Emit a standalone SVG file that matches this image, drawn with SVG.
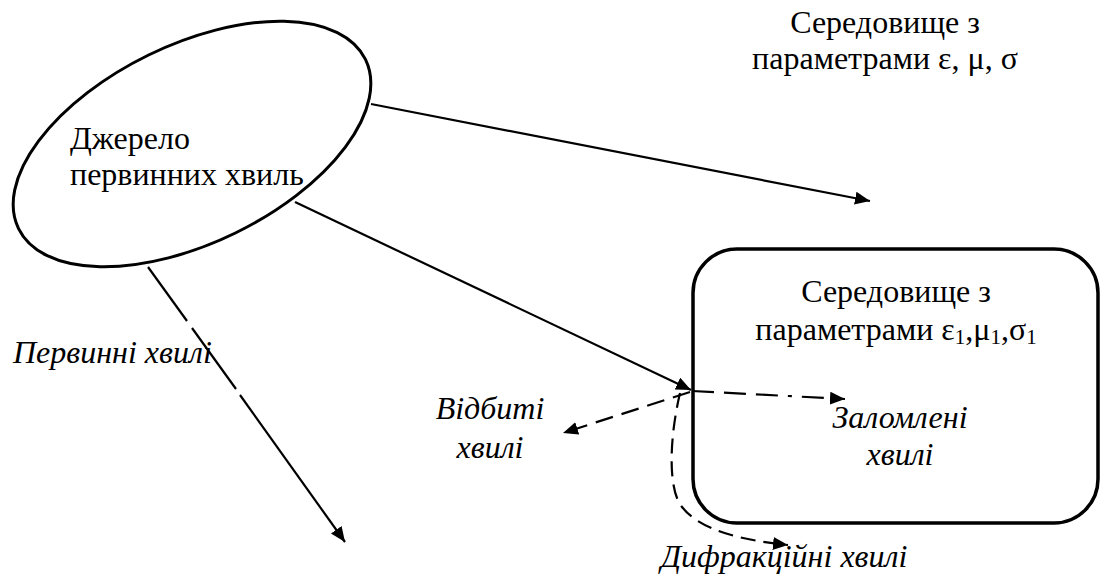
<svg xmlns="http://www.w3.org/2000/svg" width="1108" height="579" viewBox="0 0 1108 579">
<style>
text{font-family:'Liberation Serif','DejaVu Serif',serif;font-size:32px;fill:#000}
.i{font-style:italic}
.c{stroke:#000;stroke-width:2.2;fill:none}
</style>
<defs>
<marker id="ah" markerUnits="userSpaceOnUse" markerWidth="16" markerHeight="14" refX="15" refY="6.5" orient="auto">
<path d="M0,0 L15,6.5 L0,13 z" fill="#000"/>
</marker>
</defs>
<rect width="1108" height="579" fill="#fff"/>
<g id="source">
<ellipse cx="192" cy="144" rx="193" ry="99" transform="rotate(-26 192 144)" fill="none" stroke="#000" stroke-width="3"/>
<text font-family="Liberation Serif, serif" x="70" y="149">Джерело</text>
<text font-family="Liberation Serif, serif" x="70" y="185">первинних хвиль</text>
</g>
<g id="medium">
<text font-family="Liberation Serif, serif" x="885" y="33" text-anchor="middle">Середовище з</text>
<text font-family="Liberation Serif, serif" x="885" y="69" text-anchor="middle">параметрами ε, μ, σ</text>
</g>
<g id="medium1">
<rect x="693" y="249" width="405" height="274" rx="44" ry="44" fill="none" stroke="#000" stroke-width="3.5"/>
<text font-family="Liberation Serif, serif" x="896" y="302" text-anchor="middle">Середовище з</text>
<text font-family="Liberation Serif, serif" x="896" y="340" text-anchor="middle">параметрами ε<tspan font-size="21" dy="4">1</tspan><tspan dy="-4">,μ</tspan><tspan font-size="21" dy="4">1</tspan><tspan dy="-4">,σ</tspan><tspan font-size="21" dy="4">1</tspan></text>
</g>
<g id="labels">
<text class="i" font-family="Liberation Serif, serif" x="13" y="363">Первинні хвилі</text>
<text class="i" font-family="Liberation Serif, serif" x="490" y="419" text-anchor="middle">Відбиті</text>
<text class="i" font-family="Liberation Serif, serif" x="490" y="458" text-anchor="middle">хвилі</text>
<text class="i" font-family="Liberation Serif, serif" x="900" y="428" text-anchor="middle">Заломлені</text>
<text class="i" font-family="Liberation Serif, serif" x="900" y="465" text-anchor="middle">хвилі</text>
<text class="i" font-family="Liberation Serif, serif" x="784" y="567" text-anchor="middle">Дифракційні хвилі</text>
</g>
<g id="connectors">
<line class="c" x1="371" y1="104" x2="870" y2="201" marker-end="url(#ah)"/>
<line class="c" x1="295" y1="202" x2="691" y2="390" marker-end="url(#ah)"/>
<line class="c" x1="148" y1="267" x2="187" y2="321"/>
<line class="c" x1="192" y1="328" x2="236" y2="389"/>
<line class="c" x1="240" y1="395" x2="345" y2="542" marker-end="url(#ah)"/>
<line class="c" x1="690" y1="392" x2="563" y2="433" stroke-dasharray="18 9" marker-end="url(#ah)"/>
<line class="c" x1="692" y1="391" x2="845" y2="399" stroke-dasharray="22 10 22 10 22 10 4 10" marker-end="url(#ah)"/>
<path class="c" d="M680,393 C669,440 668,490 682,507 C700,530 740,540 788,545" stroke-dasharray="15 8" marker-end="url(#ah)"/>
</g>
</svg>
